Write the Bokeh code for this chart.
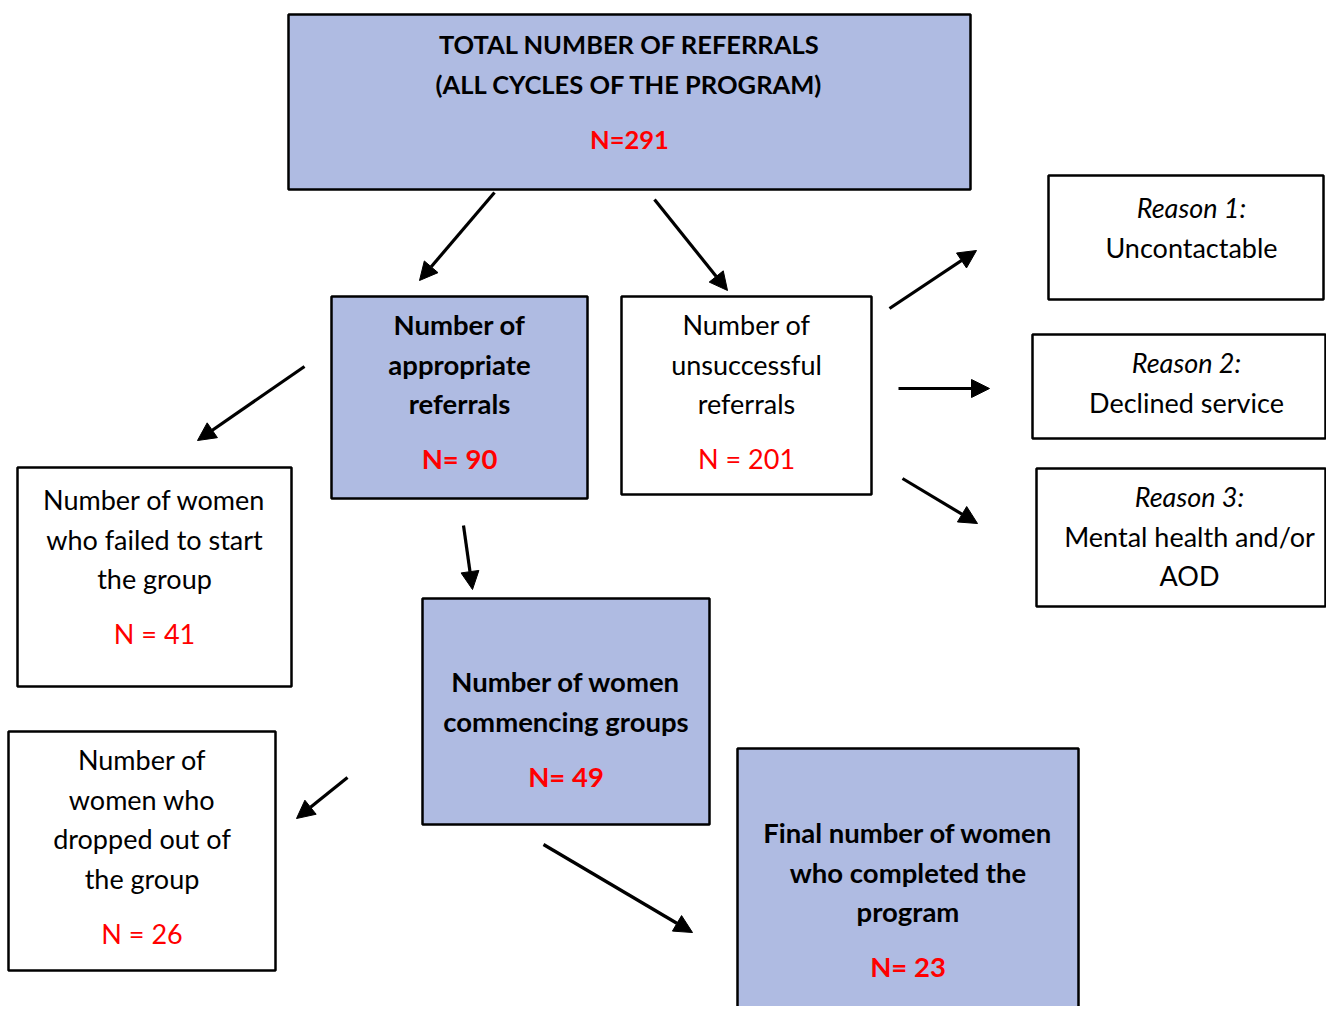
from bokeh.plotting import figure
from bokeh.models import Range1d, Arrow, NormalHead
from bokeh.core.properties import value
from bokeh.embed import file_html
from bokeh.resources import INLINE

# ---------------- data ----------------
stage_lines = [
    ["TOTAL NUMBER OF REFERRALS", "(ALL CYCLES OF THE PROGRAM)"],
    ["Number of", "appropriate", "referrals"],
    ["Number of", "unsuccessful", "referrals"],
    ["Number of women", "who failed to start", "the group"],
    ["Number of women", "commencing groups"],
    ["Number of", "women who", "dropped out of", "the group"],
    ["Final number of women", "who completed the", "program"],
]
stage_counts = [291, 90, 201, 41, 49, 26, 23]
count_formats = ["N={}", "N= {}", "N = {}", "N = {}", "N= {}", "N = {}", "N= {}"]
reason_titles = ["Reason 1:", "Reason 2:", "Reason 3:"]
reason_lines = [["Uncontactable"], ["Declined service"], ["Mental health and/or", "AOD"]]

# ---------------- layout (pixel coordinates of the picture) ----------------
stage_left = [288, 331, 621, 17, 422, 8, 737]
stage_right = [970, 587, 871, 291, 709, 275, 1078]
stage_top = [14, 296, 296, 467, 598, 731, 748]
stage_bottom = [189, 498, 494, 686, 824, 970, 1040]
stage_highlight = [True, True, False, False, True, False, True]
stage_first_y = [43, 324, 324, 499, 681, 759, 832]
stage_count_y = [138, 458, 458, 633, 776, 933, 966]

reason_left = [1048, 1032, 1036]
reason_right = [1323, 1325, 1325]
reason_center = [1191, 1186, 1189]
reason_top = [175, 334, 468]
reason_bottom = [299, 438, 606]
reason_first_y = [207, 362, 496]

arrow_x0 = [494, 654, 889, 898, 902, 304, 463, 347, 543]
arrow_y0 = [192, 199, 308, 388, 478, 366, 525, 777, 844]
arrow_x1 = [419, 727, 976, 989, 977, 197, 472, 296, 692]
arrow_y1 = [280, 290, 250, 388, 523, 440, 589, 818, 932]

LINE_STEP = 39.5
BLUE = "#AFBBE2"
RED = "#FF0000"
FONT = "Lato"
FS_REG = "27px"
FS_BOLD = "27.5px"
FS_TOP = "25.5px"

W, H = 1326, 1006
p = figure(width=W, height=H, x_range=Range1d(0, W), y_range=Range1d(H, 0),
           output_backend="svg", toolbar_location=None, min_border=0)
p.axis.visible = False
p.grid.visible = False
p.outline_line_color = None
p.background_fill_color = "white"

# boxes
fills = [BLUE if h else "white" for h in stage_highlight]
p.quad(left=stage_left, right=stage_right, top=stage_top, bottom=stage_bottom,
       fill_color=fills, line_color="black", line_width=2.5)
p.quad(left=reason_left, right=reason_right, top=reason_top, bottom=reason_bottom,
       fill_color="white", line_color="black", line_width=2.5)

# stage texts
for i, lines in enumerate(stage_lines):
    cx = (stage_left[i] + stage_right[i]) / 2
    step = 40 if i == 0 else LINE_STEP
    ys = [stage_first_y[i] + k * step for k in range(len(lines))]
    bold = stage_highlight[i]
    style = "bold" if bold else "normal"
    fs = FS_TOP if i == 0 else (FS_BOLD if bold else FS_REG)
    p.text(x=[cx] * len(lines), y=ys, text=lines, text_align="center", text_baseline="middle",
           text_font=value(FONT), text_font_size=fs, text_font_style=style, text_color="black")
    p.text(x=[cx], y=[stage_count_y[i]], text=[count_formats[i].format(stage_counts[i])],
           text_align="center", text_baseline="middle", text_font=value(FONT),
           text_font_size=fs, text_font_style=style, text_color=RED)

# reason texts
for i, title in enumerate(reason_titles):
    cx = reason_center[i]
    p.text(x=[cx], y=[reason_first_y[i]], text=[title], text_align="center", text_baseline="middle",
           text_font=value(FONT), text_font_size=FS_REG, text_font_style="italic", text_color="black")
    lines = reason_lines[i]
    ys = [reason_first_y[i] + (k + 1) * LINE_STEP for k in range(len(lines))]
    p.text(x=[cx] * len(lines), y=ys, text=lines, text_align="center", text_baseline="middle",
           text_font=value(FONT), text_font_size=FS_REG, text_color="black")

# arrows
for x0, y0, x1, y1 in zip(arrow_x0, arrow_y0, arrow_x1, arrow_y1):
    p.add_layout(Arrow(x_start=x0, y_start=y0, x_end=x1, y_end=y1, line_width=3.2, line_color="black",
                       end=NormalHead(size=18, fill_color="black", line_color="black", line_width=1)))

open("out.html", "w").write(file_html(p, INLINE))
